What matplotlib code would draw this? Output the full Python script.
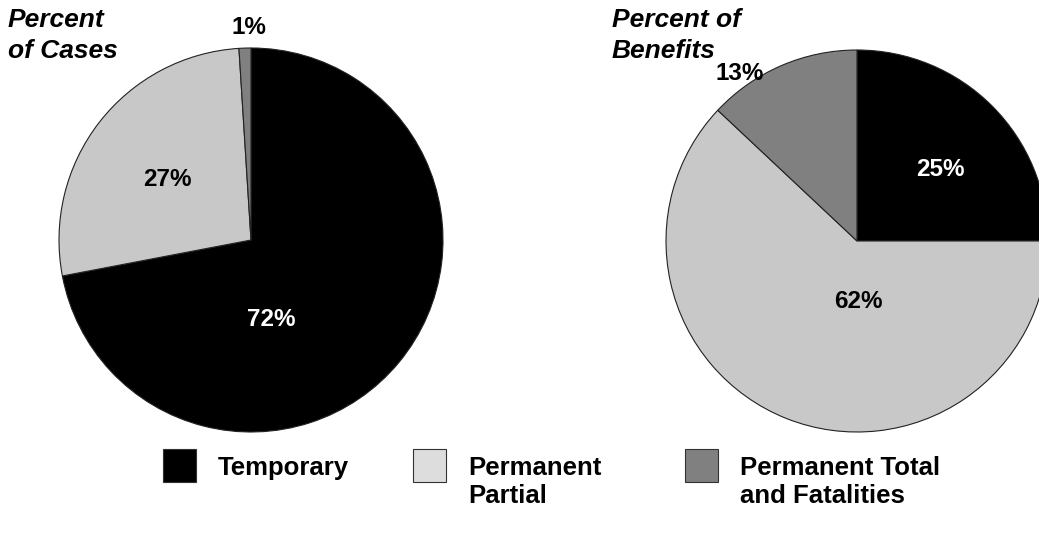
import matplotlib.pyplot as plt
from matplotlib.patches import Rectangle

## Claim categories and shares (%)
categories = ["Temporary", "Permanent\nPartial", "Permanent Total\nand Fatalities"]
cases = [72, 27, 1]
benefits = [25, 62, 13]

pie_colors = ["#000000", "#c8c8c8", "#808080"]
legend_colors = ["#000000", "#dddddd", "#808080"]
label_colors = ["white", "black", "black"]

W, H = 1039, 533
plt.rcParams['font.family'] = ['Liberation Sans', 'DejaVu Sans']

fig = plt.figure(figsize=(W / 100, H / 100), dpi=100)
ax = fig.add_axes([0, 0, 1, 1])

# left pie: cases
ax.pie(cases, colors=pie_colors, startangle=90, counterclock=False,
       center=(251, H - 240), radius=192, frame=True,
       wedgeprops=dict(edgecolor="#222222", linewidth=0.8))

# right pie: benefits
ax.pie(benefits, colors=pie_colors, startangle=90, counterclock=False,
       center=(857, H - 241), radius=191, frame=True,
       wedgeprops=dict(edgecolor="#222222", linewidth=0.8))

ax.set_xlim(0, W)
ax.set_ylim(0, H)
ax.set_aspect('equal')
ax.axis('off')

# percent labels
case_pos = [(271, 320), (167, 180), (249, 28)]
benefit_pos = [(940, 170), (858, 302), (740, 73)]

for vals, pos in [(cases, case_pos), (benefits, benefit_pos)]:
    for i, (v, (x, y)) in enumerate(zip(vals, pos)):
        col = label_colors[i]
        # small slices carry their label outside the pie
        if i == 2:
            col = "black"
        ax.text(x, H - y, f"{v}%", color=col, fontsize=17.5, fontweight='bold',
                ha='center', va='center')

# titles
ax.text(8, H - 8, "Percent\nof Cases", fontsize=19, fontweight='bold',
        fontstyle='italic', ha='left', va='top', linespacing=1.35)
ax.text(612, H - 8, "Percent of\nBenefits", fontsize=19, fontweight='bold',
        fontstyle='italic', ha='left', va='top', linespacing=1.35)

# legend
leg_x = [163, 413, 685]
for x, lab, col in zip(leg_x, categories, legend_colors):
    ax.add_patch(Rectangle((x, H - 482), 33, 33, facecolor=col,
                           edgecolor="#333333", linewidth=0.8, clip_on=False))
    ax.text(x + 55, H - 456, lab, fontsize=18.5, fontweight='bold',
            ha='left', va='top', linespacing=1.22)

fig.savefig("out.png", dpi=100)
